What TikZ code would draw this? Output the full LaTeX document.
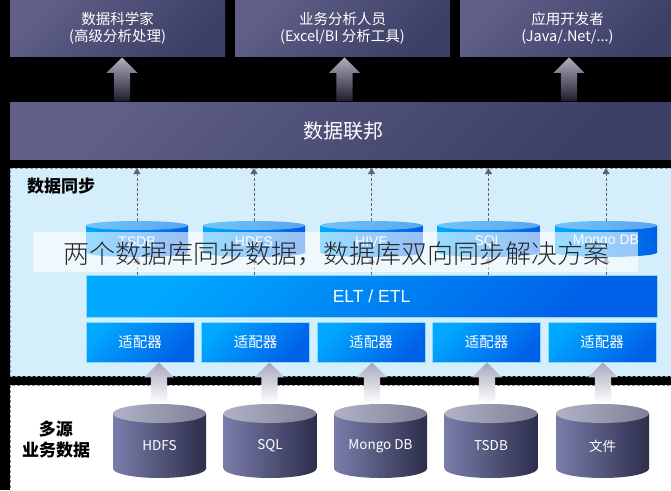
\documentclass[tikz,border=0pt]{standalone}
\usepackage{fontspec}
\setmainfont{Noto Sans CJK SC}
\newfontfamily\latinfont{Liberation Sans}
\newfontfamily\thinfont{Noto Sans CJK SC Light}
\usetikzlibrary{shapes,arrows.meta,positioning}
\definecolor{navylight}{HTML}{5F5F88}
\definecolor{navydark}{HTML}{3B3E65}
\definecolor{skypanel}{HTML}{D5EEFC}
\definecolor{bluelight}{HTML}{00A8FF}
\definecolor{bluedark}{HTML}{0060E8}
\definecolor{capleft}{HTML}{72C4F8}
\definecolor{capright}{HTML}{5AA5F2}
\definecolor{bigleft}{HTML}{7A7DAA}
\definecolor{bigright}{HTML}{2C2E4B}
\definecolor{bigcapleft}{HTML}{B1B2C8}
\definecolor{bigcapright}{HTML}{7E8095}
\definecolor{linkgrey}{HTML}{5F6080}
\begin{document}
\begin{tikzpicture}[x=1pt,y=-1pt]
    % Styles
        \tikzstyle{block} = [rectangle, inner sep=0pt, outer sep=0pt, text=white, align=center, left color=navylight, right color=navydark, shading angle=45]
        \tikzstyle{role} = [block, minimum height=56pt, minimum width=215pt, font=\fontsize{14.5}{17}\selectfont]
        \tikzstyle{panel} = [rectangle, inner sep=0pt, outer sep=0pt, draw=linkgrey!70, densely dashed, line width=0.4pt, minimum width=670pt]
        \tikzstyle{blueblock} = [rectangle, inner sep=0pt, outer sep=0pt, text=white, draw=bluelight!45!white, line width=0.5pt, left color=bluelight, right color=bluedark, shading angle=45]
        \tikzstyle{adapter} = [blueblock, minimum height=40pt, minimum width=108pt, font=\fontsize{14.5}{17}\selectfont]
        \tikzstyle{heading} = [inner sep=0pt, align=center, font=\fontsize{17}{21}\selectfont\bfseries]
        \tikzstyle{smalldb} = [rectangle, inner sep=0pt, outer sep=0pt, minimum height=27pt, minimum width=102pt, left color=bluelight, right color=bluedark]
        \tikzstyle{smallend} = [ellipse, inner sep=0pt, outer sep=0pt, minimum height=9pt, minimum width=102pt, left color=bluelight, right color=bluedark]
        \tikzstyle{smallcap} = [smallend, left color=capleft, right color=capright]
        \tikzstyle{smalltext} = [inner sep=0pt, text=white, font=\latinfont\fontsize{14}{16}\selectfont]
        \tikzstyle{bigdb} = [rectangle, inner sep=0pt, outer sep=0pt, minimum height=55pt, minimum width=93pt, left color=bigleft, right color=bigright]
        \tikzstyle{bigend} = [ellipse, inner sep=0pt, outer sep=0pt, minimum height=19pt, minimum width=93pt, left color=bigleft, right color=bigright]
        \tikzstyle{bigcap} = [bigend, left color=bigcapleft, right color=bigcapright]
        \tikzstyle{bigtext} = [inner sep=0pt, text=white, font=\fontsize{13.5}{16}\selectfont]
        \tikzstyle{uparrow} = [single arrow, anchor=tip, shape border rotate=90, inner sep=8pt, single arrow head extend=7.5pt, single arrow tip angle=90, minimum height=44pt, top color=navylight!50!white, bottom color=black!70!navylight]
        \tikzstyle{srcarrow} = [single arrow, anchor=tip, shape border rotate=90, inner sep=8pt, single arrow head extend=7pt, single arrow tip angle=90, minimum height=41pt, top color=navylight!55!white, bottom color=white]
        \tikzstyle{link} = [draw=linkgrey, densely dashed, line width=0.5pt, -{Triangle[width=7pt,length=6pt]}]
        \tikzstyle{veil} = [rectangle, inner sep=0pt, minimum height=40pt, minimum width=605pt, fill=white, fill opacity=0.6]
    % background
        \fill [black] (0,0) rectangle (671,490);
        \useasboundingbox (0,0) rectangle (671,490);
    % top row
        \node [role, anchor=north west] (scientist) at (10,0) {数据科学家\\(高级分析处理)};
        \node [role, right = 10pt of scientist] (analyst) {业务分析人员\\(Excel/BI 分析工具)};
        \node [role, right = 10pt of analyst] (developer) {应用开发者\\(Java/.Net/...)};
    % federation
        \node [block, anchor=north west, minimum height=57pt, minimum width=666pt, font=\fontsize{20}{24}\selectfont] (federation) at (10,102) {数据联邦};
        \node [uparrow] (arrowsci) at (122,57) {};
        \node [uparrow] (arrowbiz) at (344.5,57) {};
        \node [uparrow] (arrowdev) at (569,57) {};
    % panels
        \node [panel, anchor=north west, fill=skypanel, minimum height=208pt] (syncpanel) at (10,168) {};
        \node [panel, anchor=north west, fill=white, minimum height=110pt] (srcpanel) at (10,385) {};
        \node [heading, anchor=west] (synctitle) at (27,186) {数据同步};
        \node [heading] (srctitle) at (56,440) {多源\\业务数据};
    % adapters
        \node [adapter, anchor=north west] (adpta) at (86,322) {适配器};
        \node [adapter, right = 7.5pt of adpta] (adptb) {适配器};
        \node [adapter, right = 7.5pt of adptb] (adptc) {适配器};
        \node [adapter, right = 7.5pt of adptc] (adptd) {适配器};
        \node [adapter, right = 7.5pt of adptd] (adpte) {适配器};
    % ELT
        \node [blueblock, anchor=north west, minimum height=42pt, minimum width=571pt, font=\latinfont\fontsize{17.5}{20}\selectfont] (etl) at (86,275) {ELT / ETL};
    % small databases
        \foreach \db/\cx/\name in {tsdb/137/TSDB, hdfs/254/HDFS, hive/371.5/HIVE, sql/488.5/SQL, mongo/606/Mongo DB} {
            \node [smallend] (\db end) at (\cx,252.5) {};
            \node [smalldb] (\db) at (\cx,239) {};
            \node [smallcap] (\db cap) at (\cx,225.5) {};
            \node [smalltext] (\db text) at (\cx,241.5) {\name};
            \path [link] (\db cap.north) -- (\db cap.north |- syncpanel.north);
            \path [link] (etl.north -| \db end.south) -- (\db end.south);
        }
    % source arrows
        \node [srcarrow] (arrowa) at (159,362) {};
        \node [srcarrow] (arrowb) at (269.5,362) {};
        \node [srcarrow] (arrowc) at (372,362) {};
        \node [srcarrow] (arrowd) at (487,362) {};
        \node [srcarrow] (arrowe) at (603,362) {};
    % source databases
        \foreach \db/\cx/\name in {srchdfs/159.5/HDFS, srcsql/270/SQL, srcmongo/380.5/Mongo DB, srctsdb/491/TSDB, srcfile/602.5/文件} {
            \node [bigend] (\db end) at (\cx,468.5) {};
            \node [bigdb] (\db) at (\cx,441) {};
            \node [bigcap] (\db cap) at (\cx,413.5) {};
            \node [bigtext] (\db text) at (\cx,446) {\name};
        }
    % title strip
        \node [veil] (caption) at (335.5,252) {};
        \node [font=\thinfont\fontsize{26}{30}\selectfont, text=black!85, inner sep=0pt] (captiontext) at (336.5,254) {两个数据库同步数据，数据库双向同步解决方案};
    \end{tikzpicture}
\end{document}
